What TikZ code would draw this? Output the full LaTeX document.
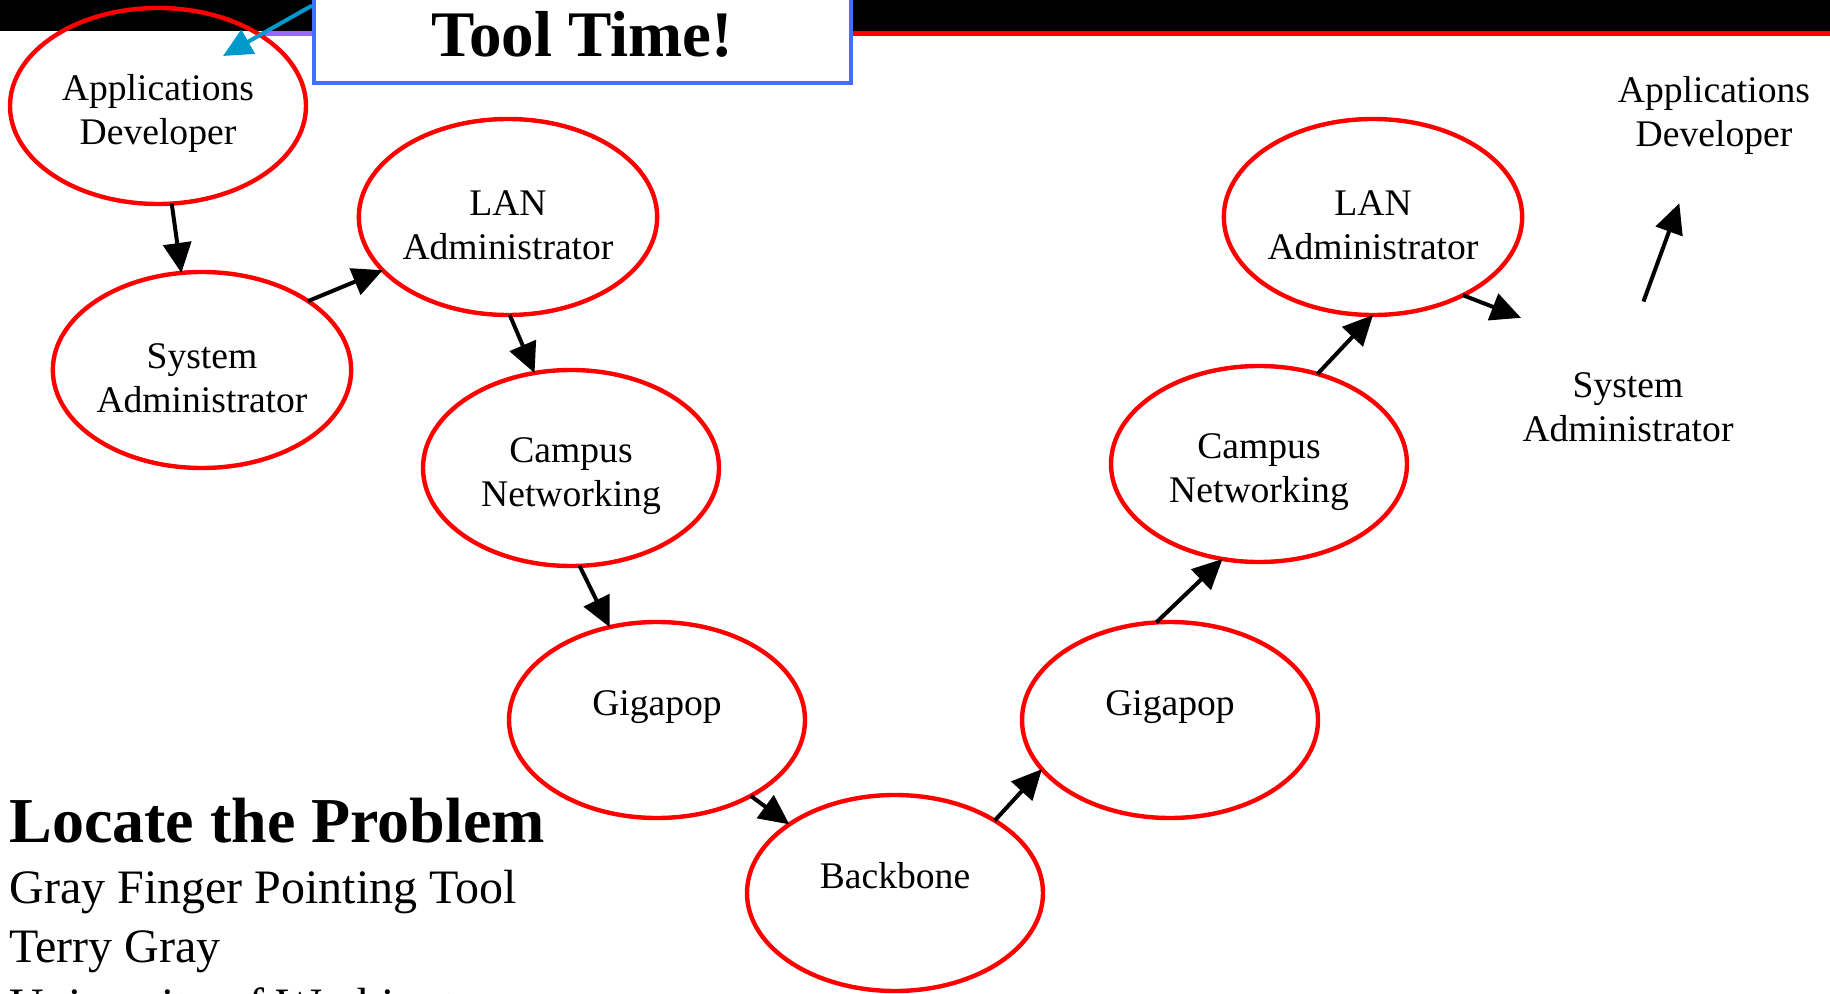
\documentclass[tikz,border=0pt]{standalone}
\usepackage{fontspec}
\setmainfont{Liberation Serif}
\usetikzlibrary{shapes.geometric,arrows.meta}
\definecolor{toolblue}{RGB}{64,112,255}
\definecolor{toolarrow}{RGB}{0,153,204}
\definecolor{barpurple}{RGB}{153,102,255}

\begin{document}
\begin{tikzpicture}[x=0.5pt,y=-0.5pt,
    stage/.style={ellipse,draw=red,line width=2.2pt,minimum width=148pt,minimum height=98pt,
      inner sep=0pt,outer sep=0pt,align=center,font=\fontsize{18.8}{22.2}\selectfont},
    ghost/.style={stage,draw=none},
    hop/.style={-{Triangle[length=15pt,width=14pt]},line width=2pt},
    pointer/.style={-{Triangle[length=14.5pt,width=13.5pt]},line width=2pt,draw=toolarrow}]
      \useasboundingbox (0,0) rectangle (1830,994);
      \fill[white] (0,0) rectangle (1830,994);
      \clip (0,0) rectangle (1830,994);

      % title bar
      \fill[black] (0,0) rectangle (1830,31);
      \fill[barpurple] (262,31) rectangle (312,36);
      \fill[red] (853,31) rectangle (1830,36);
      \node[draw=toolblue,fill=white,line width=2pt,minimum width=268.5pt,minimum height=49pt,
        font=\bfseries\fontsize{32.5}{36}\selectfont] (tool) at (582.5,34) {Tool Time!};

      \node[stage] (1) at (158,106) {\mbox{}\\[-1.5pt]Applications\\Developer};
      \node[stage] (2) at (202,370) {\mbox{}\\[-1.5pt]System\\Administrator};
      \node[stage] (3) at (508,217) {\mbox{}\\[-1.5pt]LAN\\Administrator};
      \node[stage] (4) at (571,468) {\mbox{}\\[-1.5pt]Campus\\Networking};
      \node[stage] (5) at (657,720) {\mbox{}\\[-4.8pt]Gigapop\\\mbox{}};
      \node[stage] (6) at (895,893) {\mbox{}\\[-4.8pt]Backbone\\\mbox{}};
      \node[stage] (7) at (1170,720) {\mbox{}\\[-4.8pt]Gigapop\\\mbox{}};
      \node[stage] (8) at (1259,464) {\mbox{}\\[-1.5pt]Campus\\Networking};
      \node[stage] (9) at (1373,217) {\mbox{}\\[-1.5pt]LAN\\Administrator};
      \node[ghost] (10) at (1628,399) {\mbox{}\\[-1.5pt]System\\Administrator};
      \node[ghost] (11) at (1714,108) {\mbox{}\\[-1.5pt]Applications\\Developer};

      \draw[hop] (1.-82) -- (2.102);
      \draw[hop] (2.33) -- (3.203);
      \draw[hop] (3.-89) -- (4.111);
      \draw[hop] (4.-85) -- (5.117);
      \draw[hop] (5.-39) -- (6.147);
      \draw[hop] (6.36) -- (7.201);
      \draw[hop] (7.98) -- (8.-111);
      \draw[hop] (8.57) -- (9.-90);
      \draw[hop,shorten >=7pt] (9.-41) -- (10.141);
      \draw[hop] (10.81) -- (11.-110);

      \coordinate (devtip) at (223,56);
      \draw[pointer] (tool.174) -- (devtip);

      \node[anchor=base west,inner sep=0pt,font=\bfseries\fontsize{32}{38}\selectfont] (title) at (9,842) {Locate the Problem};
      \node[anchor=base west,inner sep=0pt,font=\fontsize{24}{30}\selectfont] (toolname) at (9,903) {Gray Finger Pointing Tool};
      \node[anchor=base west,inner sep=0pt,font=\fontsize{24}{30}\selectfont] (author) at (9,962) {Terry Gray};
      \node[anchor=base west,inner sep=0pt,font=\fontsize{24}{30}\selectfont] (school) at (9,1021) {University of Washington};
    \end{tikzpicture}
\end{document}
